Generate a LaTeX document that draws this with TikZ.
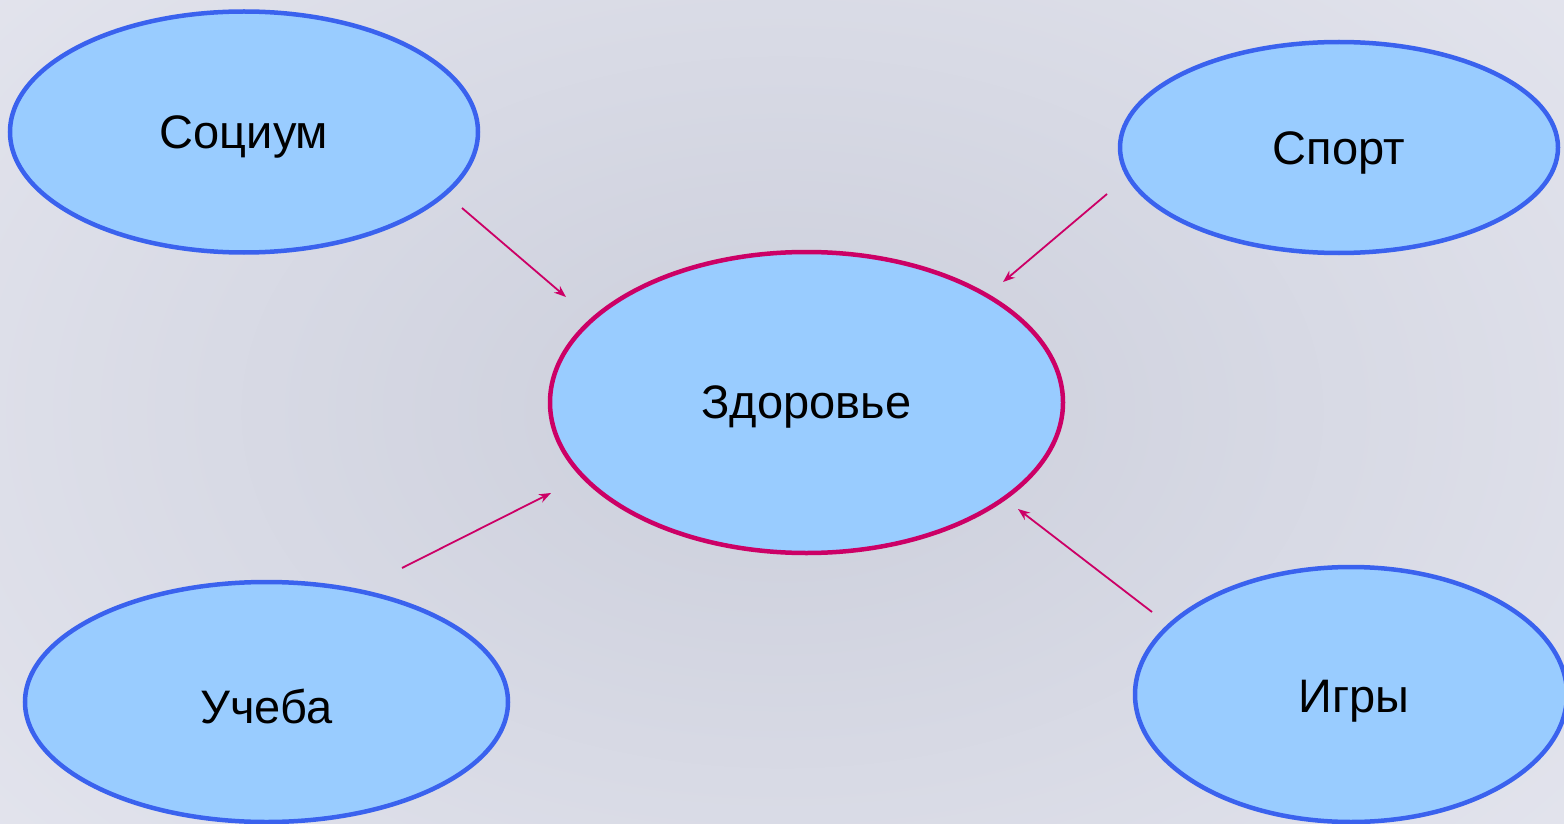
\documentclass[tikz,border=0pt]{standalone}
\usepackage{fontspec}
\setmainfont{Liberation Sans}
\usetikzlibrary{shapes.geometric,arrows.meta,calc}
\definecolor{bgA}{HTML}{CBCEDB}
\definecolor{bgB}{HTML}{E4E5EE}
\definecolor{fillblue}{HTML}{99CCFF}
\definecolor{edgeblue}{HTML}{3A62EE}
\definecolor{edgemag}{HTML}{CC0066}
\tikzset{
  bubble/.style={ellipse, fill=fillblue, draw=edgeblue, line width=4.5pt, inner sep=0pt},
  hub/.style={bubble, draw=edgemag},
  lbl/.style={font=\fontsize{47}{50}\selectfont, inner sep=0pt},
  arr/.style={draw=edgemag, line width=1.8pt, -{Stealth[length=12pt,width=9pt]}}
}
\begin{document}
\begin{tikzpicture}[x=1pt,y=-1pt]
\useasboundingbox (0,0) rectangle (1564,824);
\clip (0,0) rectangle (1564,824);
\shade[inner color=bgA, outer color=bgB] (-300,-300) rectangle (1864,1124);
\node[bubble, minimum width=468, minimum height=241] (soc) at (244,132) {};
\node[lbl] (socT) at (244,137) {Социум};
\node[bubble, minimum width=438, minimum height=211] (spo) at (1339,147.5) {};
\node[lbl] (spoT) at (1339,153) {Спорт};
\node[hub, minimum width=513, minimum height=301] (zdr) at (806.5,402.5) {};
\node[lbl] (zdrT) at (806.5,407) {Здоровье};
\node[bubble, minimum width=483, minimum height=240] (ucb) at (266.5,702) {};
\node[lbl] (ucbT) at (266.5,706) {Учеба};
\node[bubble, minimum width=432, minimum height=255] (igr) at (1351,694.5) {};
\node[lbl] (igrT) at (1354,701) {Игры};
\coordinate (a1) at (462,208);
\coordinate (b1) at (566,297);
\coordinate (a2) at (1107,194);
\coordinate (b2) at (1003,282);
\coordinate (a3) at (402,568);
\coordinate (b3) at (551,493);
\coordinate (a4) at (1152,612);
\coordinate (b4) at (1018,509);
\draw[arr] (a1) -- (b1);
\draw[arr] (a2) -- (b2);
\draw[arr] (a3) -- (b3);
\draw[arr] (a4) -- (b4);
\end{tikzpicture}
\end{document}
